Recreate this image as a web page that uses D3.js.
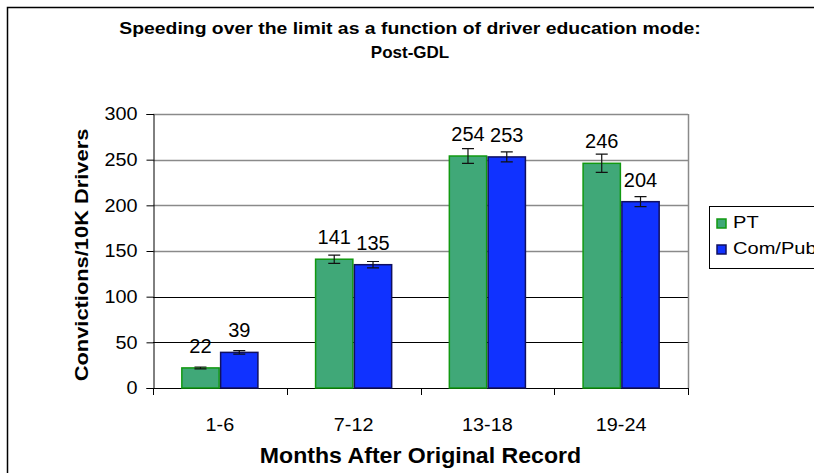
<!DOCTYPE html>
<html>
  <head>
    <meta charset="utf-8">
    <title>Speeding over the limit: Post-GDL</title>
    <script src="https://cdn.jsdelivr.net/npm/d3@7"></script>
    <style>
      body { margin: 0; background: #fff; }
      svg { display: block; font-family: "Liberation Sans", Arial, sans-serif; }
    </style>
  </head>
  <body>
    <svg id="chart" width="814" height="473"></svg>

    <script>
      // data
      const months = ["1-6", "7-12", "13-18", "19-24"];
      const series = ["PT", "Com/Pub"];
      const ptValues = [22, 141, 254, 246];
      const comPubValues = [39, 135, 253, 204];
      const ptErrors = [1, 4.5, 8, 10];
      const comPubErrors = [2, 3.5, 5.5, 5.5];
      const yTicks = [0, 50, 100, 150, 200, 250, 300];

      const colours = { "PT": "#40a878", "Com/Pub": "#1032ff" };
      const edges = { "PT": "#119911", "Com/Pub": "#101060" };

      const svg = d3.select("#chart");
      const plot = { left: 153, right: 688, top: 114, bottom: 388 };

      // the original text is drawn a bit wider than Arial, so widen it
      function stretch(sel, k) {
        sel.each(function() {
          const w = this.getComputedTextLength();
          d3.select(this).attr("textLength", w * k).attr("lengthAdjust", "spacingAndGlyphs");
        });
      }

      // outer frame
      svg.append("rect")
        .attr("x", 7.5).attr("y", 7.5)
        .attr("width", 900).attr("height", 600)
        .attr("fill", "none").attr("stroke", "#000").attr("stroke-width", 1.5);

      // scales
      const x = d3.scaleBand().domain(months).range([plot.left, plot.right]);
      const xs = d3.scaleBand().domain(series)
        .range([x.bandwidth() * 0.21, x.bandwidth() * 0.79]);
      const y = d3.scaleLinear().domain([0, 300]).range([plot.bottom, plot.top]);

      // gridlines
      svg.append("g").selectAll("line")
        .data(yTicks.slice(1))
        .join("line")
          .attr("x1", plot.left).attr("x2", plot.right)
          .attr("y1", d => Math.round(y(d)) + 0.5).attr("y2", d => Math.round(y(d)) + 0.5)
          .attr("stroke", d => d > 100 ? "#8a8a8a" : "#000")
          .attr("stroke-width", d => d > 100 ? 1.6 : 1);
      svg.append("line")
        .attr("x1", plot.right + 0.5).attr("x2", plot.right + 0.5)
        .attr("y1", plot.top).attr("y2", plot.bottom)
        .attr("stroke", "#8a8a8a").attr("stroke-width", 1.5);

      // axes
      const yAxis = svg.append("g")
        .attr("transform", `translate(${plot.left + 0.5},0)`)
        .call(d3.axisLeft(y).tickValues(yTicks).tickSize(7).tickPadding(9));
      const xAxis = svg.append("g")
        .attr("transform", `translate(0,${plot.bottom + 0.5})`)
        .call(d3.axisBottom(x).tickSize(0).tickPadding(30));
      svg.selectAll(".domain").attr("stroke", "#000");
      yAxis.selectAll("text").attr("font-size", 18).attr("fill", "#000")
        .attr("font-family", "'Liberation Sans', Arial, sans-serif")
        .call(stretch, 1.1);
      xAxis.selectAll("text").attr("font-size", 18).attr("fill", "#000")
        .attr("font-family", "'Liberation Sans', Arial, sans-serif")
        .call(stretch, 1.1);
      xAxis.select(".domain").attr("d", `M${plot.left},0H${plot.right + 0.5}`);
      // category boundary ticks
      svg.append("g").selectAll("line")
        .data(months.concat("end"))
        .join("line")
          .attr("x1", (d, i) => Math.round(plot.left + i * x.step()) + 0.5)
          .attr("x2", (d, i) => Math.round(plot.left + i * x.step()) + 0.5)
          .attr("y1", plot.bottom).attr("y2", plot.bottom + 7)
          .attr("stroke", "#000");

      // bars
      const rows = months.map((m, i) => [
        { month: m, key: "PT", value: ptValues[i], err: ptErrors[i] },
        { month: m, key: "Com/Pub", value: comPubValues[i], err: comPubErrors[i] }
      ]).flat();

      const bars = svg.append("g").selectAll("g")
        .data(rows)
        .join("g")
          .attr("transform", d => `translate(${x(d.month) + xs(d.key)},0)`);
      bars.append("rect")
        .attr("x", 0.75)
        .attr("y", d => y(d.value))
        .attr("width", xs.bandwidth() - 1.5)
        .attr("height", d => plot.bottom - y(d.value))
        .attr("fill", d => colours[d.key])
        .attr("stroke", d => edges[d.key])
        .attr("stroke-width", 1.5);

      // error bars
      const cx = xs.bandwidth() / 2;
      bars.append("path")
        .attr("d", d => {
          const hi = y(d.value + d.err), lo = y(d.value - d.err);
          return `M${cx},${hi}V${lo}M${cx - 6},${hi}H${cx + 6}M${cx - 6},${lo}H${cx + 6}`;
        })
        .attr("stroke", "#111").attr("stroke-width", 1.2).attr("fill", "none");

      // value labels
      bars.append("text")
        .attr("x", cx)
        .attr("y", d => y(d.value) - 15)
        .attr("text-anchor", "middle")
        .attr("font-size", 20)
        .text(d => d.value);

      // titles
      const title = svg.append("text")
        .attr("text-anchor", "middle")
        .attr("font-size", 17).attr("font-weight", "bold");
      title.append("tspan").attr("x", 410).attr("y", 34)
        .text("Speeding over the limit as a function of driver education mode:")
        .call(stretch, 1.14);
      title.append("tspan").attr("x", 410).attr("y", 58)
        .text("Post-GDL");

      svg.append("text")
        .attr("transform", `translate(88,${(plot.top + plot.bottom) / 2 + 4}) rotate(-90)`)
        .attr("text-anchor", "middle")
        .attr("font-size", 19).attr("font-weight", "bold")
        .text("Convictions/10K Drivers")
        .call(stretch, 1.15);

      svg.append("text")
        .attr("x", (plot.left + plot.right) / 2).attr("y", 463)
        .attr("text-anchor", "middle")
        .attr("font-size", 22).attr("font-weight", "bold")
        .text("Months After Original Record")
        .call(stretch, 1.05);

      // legend
      const legend = svg.append("g").attr("transform", "translate(709,206)");
      legend.append("rect")
        .attr("x", 0.5).attr("y", 0.5).attr("width", 200).attr("height", 62)
        .attr("fill", "#fff").attr("stroke", "#000");
      const item = legend.selectAll(".item")
        .data(series)
        .join("g")
          .attr("transform", (d, i) => `translate(8,${13 + i * 26})`);
      item.append("rect")
        .attr("width", 9).attr("height", 9)
        .attr("fill", d => colours[d])
        .attr("stroke", d => edges[d]).attr("stroke-width", 1.5);
      item.append("text")
        .attr("x", 16).attr("y", 9)
        .attr("font-size", 17)
        .text(d => d)
        .call(stretch, 1.18);
    </script>
  </body>
</html>
